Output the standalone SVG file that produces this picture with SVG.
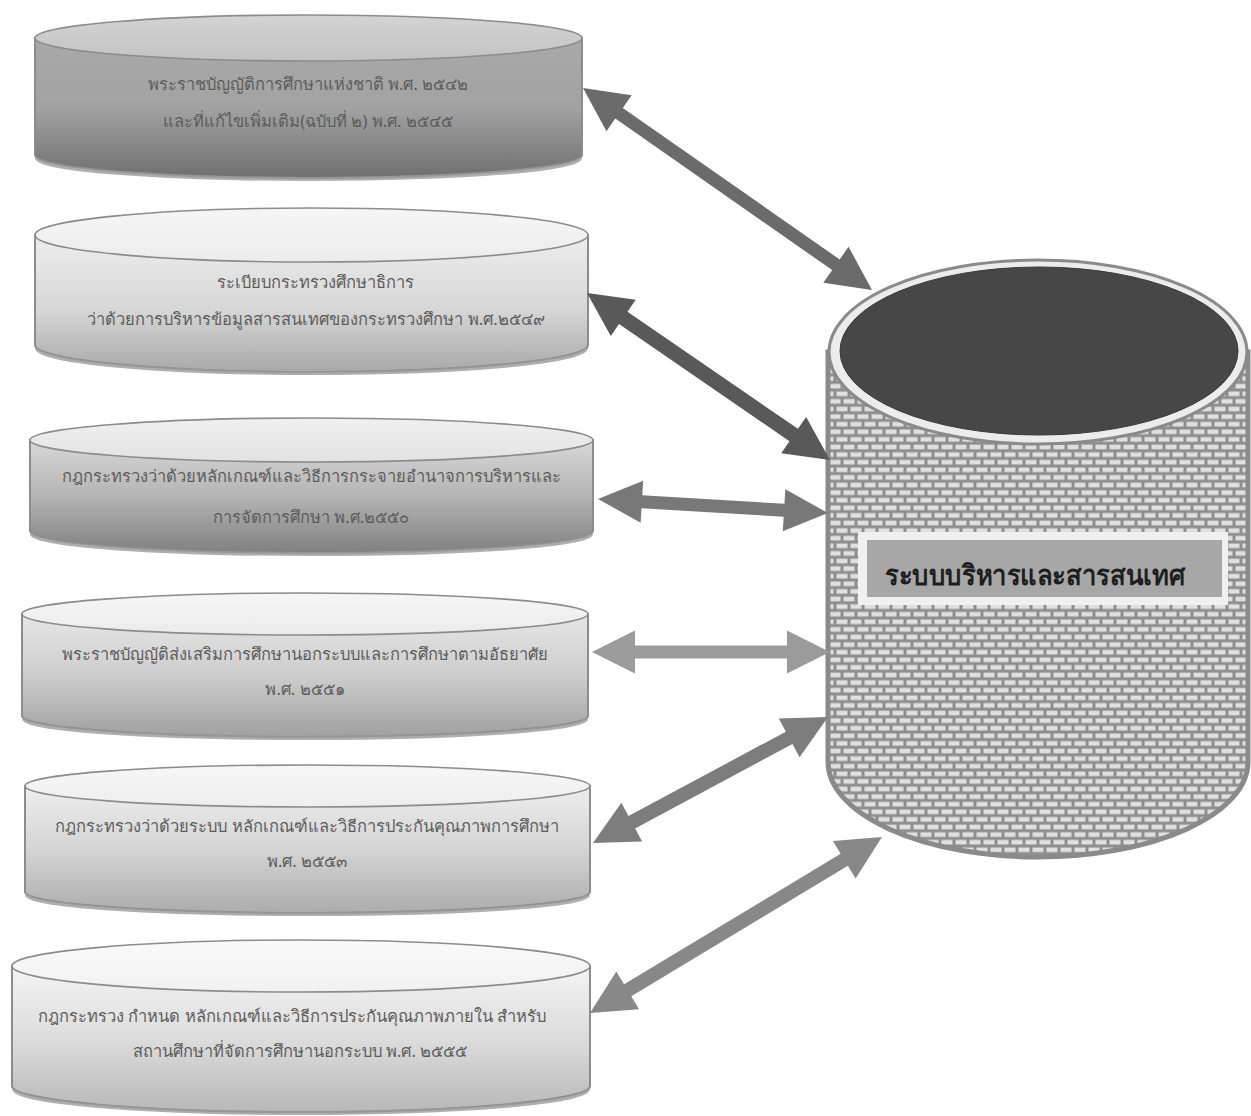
<svg xmlns="http://www.w3.org/2000/svg" width="1251" height="1116" viewBox="0 0 1251 1116">
  <defs>
    <style>
      .side { stroke: #8c8c8c; stroke-width: 2; }
      .lid { stroke: #8c8c8c; stroke-width: 1.6; }
      .rim { fill: none; stroke: #9a9a9a; stroke-width: 4; opacity: 0.8; }
      .lbl { font-family: "Noto Sans", "DejaVu Sans", sans-serif; font-size: 16.5px; fill: #5c5c5c; text-anchor: middle; }
      .title { font-family: "Noto Sans", "DejaVu Sans", sans-serif; font-size: 28px; font-weight: bold; fill: #1e1e1e; }
    </style>
    <linearGradient id="b1" x1="0" y1="0" x2="0" y2="1"><stop offset="0" stop-color="#a9a9a9"/><stop offset="0.5" stop-color="#a2a2a2"/><stop offset="1" stop-color="#6f6f6f"/></linearGradient>
    <linearGradient id="t1" x1="0" y1="0" x2="0" y2="1"><stop offset="0" stop-color="#d4d4d4"/><stop offset="1" stop-color="#c2c2c2"/></linearGradient>
    <linearGradient id="b2" x1="0" y1="0" x2="0" y2="1"><stop offset="0" stop-color="#eeeeee"/><stop offset="0.55" stop-color="#d6d6d6"/><stop offset="1" stop-color="#a8a8a8"/></linearGradient>
    <linearGradient id="t2" x1="0" y1="0" x2="0" y2="1"><stop offset="0" stop-color="#f6f6f6"/><stop offset="1" stop-color="#ececec"/></linearGradient>
    <linearGradient id="b3" x1="0" y1="0" x2="0" y2="1"><stop offset="0" stop-color="#d8d8d8"/><stop offset="0.5" stop-color="#b4b4b4"/><stop offset="1" stop-color="#808080"/></linearGradient>
    <linearGradient id="t3" x1="0" y1="0" x2="0" y2="1"><stop offset="0" stop-color="#f0f0f0"/><stop offset="1" stop-color="#e2e2e2"/></linearGradient>
    <linearGradient id="b4" x1="0" y1="0" x2="0" y2="1"><stop offset="0" stop-color="#e6e6e6"/><stop offset="0.5" stop-color="#cdcdcd"/><stop offset="1" stop-color="#a0a0a0"/></linearGradient>
    <linearGradient id="t4" x1="0" y1="0" x2="0" y2="1"><stop offset="0" stop-color="#f6f6f6"/><stop offset="1" stop-color="#ebebeb"/></linearGradient>
    <linearGradient id="b5" x1="0" y1="0" x2="0" y2="1"><stop offset="0" stop-color="#eeeeee"/><stop offset="0.5" stop-color="#d4d4d4"/><stop offset="1" stop-color="#acacac"/></linearGradient>
    <linearGradient id="t5" x1="0" y1="0" x2="0" y2="1"><stop offset="0" stop-color="#f7f7f7"/><stop offset="1" stop-color="#eeeeee"/></linearGradient>
    <linearGradient id="b6" x1="0" y1="0" x2="0" y2="1"><stop offset="0" stop-color="#f4f4f4"/><stop offset="0.5" stop-color="#dcdcdc"/><stop offset="1" stop-color="#b8b8b8"/></linearGradient>
    <linearGradient id="t6" x1="0" y1="0" x2="0" y2="1"><stop offset="0" stop-color="#fafafa"/><stop offset="1" stop-color="#f1f1f1"/></linearGradient>
    <pattern id="brick" width="28" height="15.2" patternUnits="userSpaceOnUse" x="828" y="352">
      <rect width="28" height="15.2" fill="#8e8e8e"/>
      <g fill="#e0e0e0">
        <rect x="1.5" y="1.5" width="11" height="4.6"/>
        <rect x="15.5" y="1.5" width="11" height="4.6"/>
        <rect x="-5.5" y="9.1" width="11" height="4.6"/>
        <rect x="8.5" y="9.1" width="11" height="4.6"/>
        <rect x="22.5" y="9.1" width="11" height="4.6"/>
      </g>
    </pattern>
  </defs>

  <rect width="1251" height="1116" fill="#ffffff"/>

  <!-- central brick cylinder -->
  <g id="system">
    <path d="M828,352 L828,762 A210,95 0 0 0 1248,762 L1248,352 Z" fill="url(#brick)" stroke="#8a8a8a" stroke-width="5"/>
    <ellipse cx="1038" cy="352" rx="209" ry="92" fill="#ececec" stroke="#8a8a8a" stroke-width="3"/>
    <ellipse cx="1039" cy="351" rx="199" ry="84" fill="#474747" stroke="#3a3a3a" stroke-width="1"/>
    <rect x="858" y="532" width="370" height="73" fill="#f0f0f0"/>
    <rect x="867" y="540" width="355" height="57" fill="#a7a7a7"/>
    <text class="title" x="885" y="585" textLength="300" lengthAdjust="spacingAndGlyphs">ระบบบริหารและสารสนเทศ</text>
  </g>

  <!-- source cylinders -->
  <g id="act-2542">
    <path class="side" d="M35,38 L35,155 A273.5,23 0 0 0 582,155 L582,38 Z" fill="url(#b1)"/>
    <path class="rim" d="M37,158 A271.5,21 0 0 0 580,158"/>
    <ellipse class="lid" cx="308.5" cy="38" rx="273.5" ry="23" fill="url(#t1)"/>
    <text class="lbl" x="308" y="90">พระราชบัญญัติการศึกษาแห่งชาติ พ.ศ. ๒๕๔๒</text>
    <text class="lbl" x="308" y="127">และที่แก้ไขเพิ่มเติม(ฉบับที่ ๒) พ.ศ. ๒๕๔๕</text>
  </g>

  <g id="reg-2549">
    <path class="side" d="M35,235 L35,345 A276.5,27 0 0 0 588,345 L588,235 Z" fill="url(#b2)"/>
    <path class="rim" d="M37,348 A274.5,25 0 0 0 586,348"/>
    <ellipse class="lid" cx="311.5" cy="235" rx="276.5" ry="27" fill="url(#t2)"/>
    <text class="lbl" x="315" y="288">ระเบียบกระทรวงศึกษาธิการ</text>
    <text class="lbl" x="316" y="325">ว่าด้วยการบริหารข้อมูลสารสนเทศของกระทรวงศึกษา พ.ศ.๒๕๔๙</text>
  </g>

  <g id="rule-2550">
    <path class="side" d="M30,440 L30,531 A281.5,22 0 0 0 593,531 L593,440 Z" fill="url(#b3)"/>
    <path class="rim" d="M32,534 A279.5,20 0 0 0 591,534"/>
    <ellipse class="lid" cx="311.5" cy="440" rx="281.5" ry="22" fill="url(#t3)"/>
    <text class="lbl" x="311" y="482">กฎกระทรวงว่าด้วยหลักเกณฑ์และวิธีการกระจายอำนาจการบริหารและ</text>
    <text class="lbl" x="311" y="523">การจัดการศึกษา พ.ศ.๒๕๕๐</text>
  </g>

  <g id="act-2551">
    <path class="side" d="M22,614 L22,716 A283,21 0 0 0 588,716 L588,614 Z" fill="url(#b4)"/>
    <path class="rim" d="M24,719 A281,19 0 0 0 586,719"/>
    <ellipse class="lid" cx="305" cy="614" rx="283" ry="21" fill="url(#t4)"/>
    <text class="lbl" x="305" y="660">พระราชบัญญัติส่งเสริมการศึกษานอกระบบและการศึกษาตามอัธยาศัย</text>
    <text class="lbl" x="305" y="695">พ.ศ. ๒๕๕๑</text>
  </g>

  <g id="rule-2553">
    <path class="side" d="M25,786 L25,892 A282.5,21 0 0 0 590,892 L590,786 Z" fill="url(#b5)"/>
    <path class="rim" d="M27,895 A280.5,19 0 0 0 588,895"/>
    <ellipse class="lid" cx="307.5" cy="786" rx="282.5" ry="21" fill="url(#t5)"/>
    <text class="lbl" x="307" y="832">กฎกระทรวงว่าด้วยระบบ หลักเกณฑ์และวิธีการประกันคุณภาพการศึกษา</text>
    <text class="lbl" x="307" y="867">พ.ศ. ๒๕๕๓</text>
  </g>

  <g id="rule-2555">
    <path class="side" d="M12,966 L12,1086 A289,26 0 0 0 590,1086 L590,966 Z" fill="url(#b6)"/>
    <path class="rim" d="M14,1089 A287,24 0 0 0 588,1089"/>
    <ellipse class="lid" cx="301" cy="966" rx="289" ry="26" fill="url(#t6)"/>
    <text class="lbl" x="292" y="1022">กฎกระทรวง กำหนด หลักเกณฑ์และวิธีการประกันคุณภาพภายใน สำหรับ</text>
    <text class="lbl" x="300" y="1057">สถานศึกษาที่จัดการศึกษานอกระบบ พ.ศ. ๒๕๕๕</text>
  </g>

  <!-- two-way block arrows -->
  <g id="connectors">
    <polygon fill="#6b6b6b" transform="translate(583,88) rotate(34.95)" points="0,0 44,-22 44,-6.5 308.6,-6.5 308.6,-22 352.6,0 308.6,22 308.6,6.5 44,6.5 44,22"/>
    <polygon fill="#595959" transform="translate(587,293) rotate(34.5)" points="0,0 44,-22 44,-7.5 250.8,-7.5 250.8,-22 294.8,0 250.8,22 250.8,7.5 44,7.5 44,22"/>
    <polygon fill="#787878" transform="translate(598,499) rotate(3.48)" points="0,0 44,-21 44,-6.5 186.4,-6.5 186.4,-21 230.4,0 186.4,21 186.4,6.5 44,6.5 44,21"/>
    <polygon fill="#9b9b9b" transform="translate(592,652)" points="0,0 43,-21.5 43,-6.5 195,-6.5 195,-21.5 238,0 195,21.5 195,6.5 43,6.5 43,21.5"/>
    <polygon fill="#7d7d7d" transform="translate(593,843) rotate(-28.2)" points="0,0 44,-22 44,-7 222.6,-7 222.6,-22 266.6,0 222.6,22 222.6,7 44,7 44,22"/>
    <polygon fill="#888888" transform="translate(590,1013) rotate(-31.08)" points="0,0 44,-22 44,-7 296.9,-7 296.9,-22 340.9,0 296.9,22 296.9,7 44,7 44,22"/>
  </g>
</svg>
